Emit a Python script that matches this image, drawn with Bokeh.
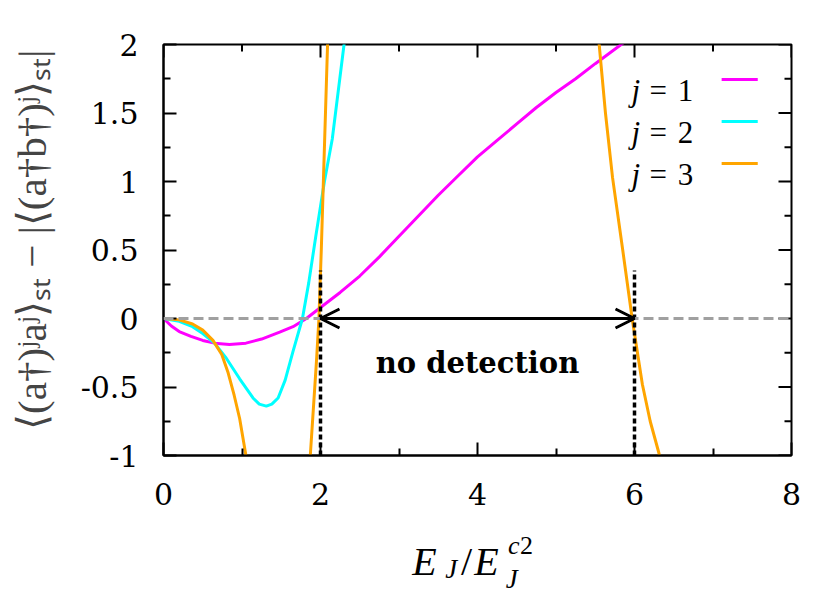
import math
from bokeh.plotting import figure
from bokeh.layouts import column
from bokeh.models import (Range1d, FixedTicker, Span, Arrow, OpenHead,
                          Label, ColumnDataSource, CustomJSTickFormatter)
from bokeh.core.properties import value
from bokeh.embed import file_html
from bokeh.resources import INLINE

nan = float("nan")

# ---- data ----
x_j1 = [0, 0.1, 0.2, 0.35, 0.5, 0.65, 0.84, 1.05, 1.25, 1.48, 1.65, 1.82, 2.0, 2.25, 2.5,
        2.75, 3.0, 3.25, 3.5, 3.75, 4.0, 4.25, 4.5, 4.75, 5.0, 5.25, 5.5, 5.83, 6.0]
y_j1 = [0, -0.055, -0.095, -0.13, -0.16, -0.18, -0.19, -0.18, -0.15, -0.1, -0.06, 0.0, 0.08,
        0.19, 0.31, 0.45, 0.6, 0.75, 0.9, 1.04, 1.18, 1.3, 1.42, 1.54, 1.65, 1.75, 1.86, 2.0, 2.07]

x_j2 = [0, 0.2, 0.37, 0.5, 0.65, 0.8, 0.97, 1.14, 1.22, 1.31, 1.38, 1.46, 1.55, 1.65, 1.77,
        1.85, 1.94, 2.05, 2.15, 2.3, 2.34]
y_j2 = [0, -0.02, -0.06, -0.11, -0.18, -0.29, -0.44, -0.58, -0.625, -0.64, -0.625, -0.58,
        -0.45, -0.24, 0.0, 0.26, 0.6, 1.0, 1.31, 2.0, 2.2]

x_j3 = [0, 0.2, 0.37, 0.5, 0.63, 0.74, 0.82, 0.9, 0.97, 1.05, 1.08, nan,
        1.85, 1.87, 1.91, 1.95, 1.98, 2.01, 2.05, 2.09, 2.11, nan,
        5.53, 5.55, 5.63, 5.72, 5.85, 5.97, 6.1, 6.2, 6.31, 6.34]
y_j3 = [0, -0.01, -0.04, -0.085, -0.16, -0.26, -0.39, -0.56, -0.73, -1.0, -1.1, nan,
        -1.3, -1.0, -0.65, -0.3, 0.0, 0.5, 1.25, 2.0, 2.4, nan,
        2.1, 2.0, 1.5, 1.03, 0.5, 0.0, -0.48, -0.75, -0.98, -1.06]

detect_x = [2, 6]          # borders of the "no detection" window
detect_top = 0.35

series_names = ["1", "2", "3"]
series_colors = ["#ff00ff", "#00ffff", "#ffa500"]

x_ticks = [0, 2, 4, 6, 8]
x_minor = [1, 3, 5, 7]
y_ticks = [-1, -0.5, 0, 0.5, 1, 1.5, 2]
y_minor = [-0.75, -0.25, 0.25, 0.75, 1.25, 1.75]

SERIF = "Liberation Serif"
W = 822
BL, BR = 163, 31

p = figure(width=W, height=520, x_range=Range1d(0, 8), y_range=Range1d(-1, 2),
           output_backend="svg", toolbar_location=None,
           min_border_left=BL, min_border_right=BR, min_border_top=44, min_border_bottom=65)
p.grid.visible = False
p.outline_line_color = "black"
p.outline_line_width = 2
p.background_fill_color = "white"
p.border_fill_color = "white"

fmt = CustomJSTickFormatter(code="return tick.toString();")


def style_axis(ax, ticks, minor):
    ax.ticker = FixedTicker(ticks=ticks, minor_ticks=minor)
    ax.formatter = fmt
    ax.axis_line_color = "black"
    ax.axis_line_width = 2
    ax.major_tick_in = 13
    ax.major_tick_out = 0
    ax.minor_tick_in = 7
    ax.minor_tick_out = 0
    ax.major_tick_line_width = 2
    ax.minor_tick_line_width = 2
    ax.major_tick_line_color = "black"
    ax.minor_tick_line_color = "black"
    ax.major_label_text_font = "DejaVu Serif"
    ax.major_label_text_font_size = "30px"
    ax.major_label_text_color = "black"


xa = p.xaxis[0]
style_axis(xa, x_ticks, x_minor)
xa.major_label_standoff = 27

ya = p.yaxis[0]
style_axis(ya, y_ticks, y_minor)
ya.major_label_standoff = 25
ya.axis_label = "\u00a0\u00a0⟨(a†)ʲaʲ⟩ₛₜ − |⟨(a†b†)ʲ⟩ₛₜ|"
ya.axis_label_text_font = SERIF
ya.axis_label_text_font_size = "41px"
ya.axis_label_text_font_style = "normal"
ya.axis_label_standoff = 23

# mirrored (inward) ticks on the top and right edges
p.ray(x=x_ticks, y=[2] * len(x_ticks), length=13, length_units="screen",
      angle=-math.pi / 2, line_color="black", line_width=2)
p.ray(x=x_minor, y=[2] * len(x_minor), length=7, length_units="screen",
      angle=-math.pi / 2, line_color="black", line_width=2)
p.ray(x=[8] * len(y_ticks), y=y_ticks, length=13, length_units="screen",
      angle=math.pi, line_color="black", line_width=2)
p.ray(x=[8] * len(y_minor), y=y_minor, length=7, length_units="screen",
      angle=math.pi, line_color="black", line_width=2)

# curves
p.line(x_j1, y_j1, line_color=series_colors[0], line_width=3)
p.line(x_j2, y_j2, line_color=series_colors[1], line_width=3)
p.line(x_j3, y_j3, line_color=series_colors[2], line_width=3)

# zero reference line
p.add_layout(Span(location=0, dimension="width", line_color="#a0a0a0",
                  line_width=3, line_dash="10 5"))

# detection window borders
p.segment(x0=detect_x, y0=[-1, -1], x1=detect_x, y1=[detect_top, detect_top],
          line_color="black", line_width=3.5, line_dash="5 3")

# double arrow
p.add_layout(Arrow(x_start=detect_x[0], y_start=0, x_end=detect_x[1], y_end=0,
                   line_color="black", line_width=3,
                   start=OpenHead(size=19, line_width=3, line_color="black"),
                   end=OpenHead(size=19, line_width=3, line_color="black")))

p.add_layout(Label(x=(detect_x[0] + detect_x[1]) / 2, y=-0.325, text="no detection",
                   text_align="center", text_baseline="alphabetic",
                   text_font="DejaVu Serif", text_font_style="bold",
                   text_font_size="29px", text_color="black"))

# legend (label first, sample line after it, as in the reference)
leg_rows = [1.745, 1.438, 1.131]
leg_src = ColumnDataSource(dict(
    y=leg_rows, yt=[r - 0.081 for r in leg_rows], name=series_names, color=series_colors,
    j=["j"] * 3, eq=["="] * 3))
p.text(x=5.962, y="yt", text="j", source=leg_src, text_font=value(SERIF),
       text_font_style="italic", text_font_size="31px", text_baseline="alphabetic",
       text_color="black")
p.text(x=6.19, y="yt", text="eq", source=leg_src, text_font=value(SERIF),
       text_font_size="31px", text_baseline="alphabetic", text_color="black")
p.text(x=6.55, y="yt", text="name", source=leg_src, text_font=value(SERIF),
       text_font_size="31px", text_baseline="alphabetic", text_color="black")
p.segment(x0=7.11, y0="y", x1=7.57, y1="y", line_color="color", line_width=3, source=leg_src)

# ---- x-axis title  E_J / E_J^{c2}  (drawn in a strip under the plot) ----
q = figure(width=W, height=80, x_range=p.x_range, y_range=Range1d(-80, 0),
           output_backend="svg", toolbar_location=None,
           min_border_left=BL, min_border_right=BR, min_border_top=0, min_border_bottom=0)
q.axis.visible = False
q.grid.visible = False
q.outline_line_color = None
q.background_fill_color = "white"
q.border_fill_color = "white"

title_src = ColumnDataSource(dict(
    x=[3.17, 3.59, 3.79, 3.96, 4.39, 4.54, 4.36],
    y=[-41, -48, -41, -41, -25, -25, -58],
    t=["E", "J", "/", "E", "c", "2", "J"],
    size=["40px", "27px", "40px", "40px", "26px", "26px", "27px"],
    style=["italic", "italic", "normal", "italic", "italic", "normal", "italic"]))
q.text(x="x", y="y", text="t", source=title_src, text_font=value(SERIF),
       text_font_size="size", text_font_style="style", text_baseline="alphabetic",
       text_align="left", text_color="black")

layout = column(p, q, spacing=0)
open("out.html", "w").write(file_html(layout, INLINE))
